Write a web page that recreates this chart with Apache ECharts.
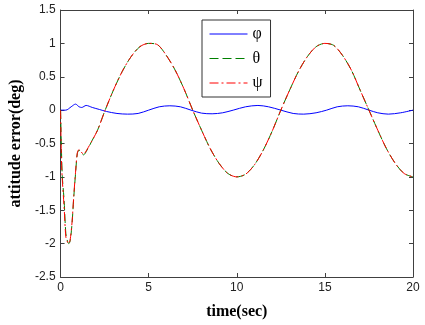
<!DOCTYPE html>
<html>
<head>
<meta charset="utf-8">
<script src="https://cdn.jsdelivr.net/npm/echarts@6/dist/echarts.min.js"></script>
<style>
  html, body { margin: 0; padding: 0; background: #fff; }
  #chart { width: 425px; height: 325px; }
</style>
</head>
<body>
<div id="chart"></div>
<script>
// time axis for theta / psi
const tMain = [0, 0.05, 0.1, 0.2, 0.3, 0.4, 0.47, 0.55, 0.65, 0.75, 0.85, 0.95, 1.05, 1.15, 1.3, 1.5, 1.8, 2.1, 2.5,
  3, 3.5, 4, 4.5, 5, 5.5, 6, 6.5, 7, 7.5, 8, 8.5, 9, 9.5, 10, 10.5, 11, 11.5, 12, 12.5,
  13, 13.5, 14, 14.5, 15, 15.5, 16, 16.5, 17, 17.5, 18, 18.5, 19, 19.5, 20]
const thetaVals = [0, -0.6, -1.0, -1.35, -1.85, -1.97, -2.0, -1.95, -1.7, -1.3, -0.95, -0.65, -0.6, -0.63, -0.67, -0.6, -0.45, -0.3, -0.02,
  0.3, 0.58, 0.8, 0.95, 1.0, 0.98, 0.82, 0.6, 0.32, 0.0, -0.3, -0.58, -0.8, -0.95, -1.0, -0.96, -0.82, -0.6, -0.32, 0.0,
  0.3, 0.58, 0.8, 0.95, 1.0, 0.97, 0.82, 0.6, 0.3, 0.0, -0.3, -0.58, -0.8, -0.95, -1.0]
const psiVals = [0, -0.75, -1.05, -1.45, -1.9, -1.98, -2.0, -1.93, -1.68, -1.28, -0.93, -0.64, -0.59, -0.62, -0.66, -0.59, -0.45, -0.3, -0.02,
  0.3, 0.58, 0.8, 0.95, 1.0, 0.98, 0.82, 0.6, 0.32, 0.0, -0.3, -0.58, -0.8, -0.95, -1.0, -0.96, -0.82, -0.6, -0.32, 0.0,
  0.3, 0.58, 0.8, 0.95, 1.0, 0.97, 0.82, 0.6, 0.3, 0.0, -0.3, -0.58, -0.8, -0.95, -1.0]

// time axis for phi
const tPhi = [0, 0.3, 0.6, 0.85, 1.05, 1.2, 1.45, 1.8, 2.2, 2.6, 3.2, 3.8, 4.4, 5.0, 5.6, 6.2, 6.8, 7.4, 8.0, 8.6, 9.2, 9.8,
  10.5, 11.2, 11.8, 12.5, 13.2, 13.8, 14.5, 15.1, 15.7, 16.3, 16.9, 17.5, 18.0, 18.6, 19.3, 20]
const phiVals = [0, 0.0, 0.05, 0.09, 0.05, 0.04, 0.07, 0.04, 0.01, -0.02, -0.05, -0.06, -0.05, 0.0, 0.05, 0.065, 0.05, 0.0, -0.045, -0.055, -0.04, 0.0,
  0.05, 0.07, 0.05, 0.0, -0.05, -0.06, -0.04, 0.0, 0.05, 0.065, 0.05, 0.0, -0.04, -0.06, -0.04, 0.0]

const seriesNames = ['φ', 'θ', 'ψ']
const xLabelText = 'time(sec)'
const yLabelText = 'attitude error(deg)'

const pair = (xs, ys) => xs.map((x, i) => [x, ys[i]])

const chart = echarts.init(document.getElementById('chart'))

const frameLine = { show: true, onZero: false, lineStyle: { color: '#404040', width: 1 } }
const tick = { show: true, inside: true, length: 4, lineStyle: { color: '#404040' } }
const tickLabel = { color: '#222', fontFamily: 'Arial, Liberation Sans', fontSize: 12 }

const option = {
  animation: false,
  backgroundColor: '#fff',
  grid: { left: 57, right: 12, top: 10, bottom: 45, containLabel: false },
  legend: {
    orient: 'vertical',
    left: 202,
    top: 20,
    padding: [6, 8, 6, 7],
    itemGap: 8.5,
    itemWidth: 38,
    itemHeight: 14,
    borderColor: '#333',
    borderWidth: 1,
    backgroundColor: '#fff',
    // hide the symbol, keep only the line sample
    itemStyle: { color: 'rgba(0,0,0,0)', borderWidth: 0 },
    lineStyle: { width: 1 },
    textStyle: { fontFamily: 'Liberation Serif, Times New Roman, serif', fontSize: 16, color: '#000' },
    data: seriesNames
  },
  xAxis: [
    {
      type: 'value', min: 0, max: 20, interval: 5,
      axisLine: frameLine, axisTick: tick, splitLine: { show: false },
      axisLabel: Object.assign({ margin: 5 }, tickLabel),
      name: xLabelText, nameLocation: 'middle', nameGap: 27,
      nameTextStyle: { fontFamily: 'Liberation Serif, Times New Roman, serif', fontWeight: 'bold', fontSize: 16, color: '#000' }
    },
    {
      type: 'value', position: 'top', min: 0, max: 20, interval: 5,
      axisLine: frameLine, axisTick: tick, splitLine: { show: false }, axisLabel: { show: false }
    }
  ],
  yAxis: [
    {
      type: 'value', min: -2.5, max: 1.5, interval: 0.5,
      axisLine: frameLine, axisTick: tick, splitLine: { show: false },
      axisLabel: Object.assign({ margin: 5 }, tickLabel),
      name: yLabelText, nameLocation: 'middle', nameGap: 30,
      nameTextStyle: { fontFamily: 'Liberation Serif, Times New Roman, serif', fontWeight: 'bold', fontSize: 16, color: '#000' }
    },
    {
      type: 'value', position: 'right', min: -2.5, max: 1.5, interval: 0.5,
      axisLine: frameLine, axisTick: tick, splitLine: { show: false }, axisLabel: { show: false }
    }
  ],
  series: [
    {
      name: seriesNames[0], type: 'line', data: pair(tPhi, phiVals),
      symbol: 'none', smooth: 0.3,
      lineStyle: { color: '#0000ff', width: 1 }, itemStyle: { color: '#0000ff' }
    },
    {
      name: seriesNames[1], type: 'line', data: pair(tMain, thetaVals),
      symbol: 'none', smooth: 0.3,
      lineStyle: { color: '#008000', width: 1, type: [9, 4] }, itemStyle: { color: '#008000' }
    },
    {
      name: seriesNames[2], type: 'line', data: pair(tMain, psiVals),
      symbol: 'none', smooth: 0.3,
      lineStyle: { color: '#ff0000', width: 1, type: [9, 3, 2, 3] }, itemStyle: { color: '#ff0000' }
    }
  ]
}

chart.setOption(option)
</script>
</body>
</html>
